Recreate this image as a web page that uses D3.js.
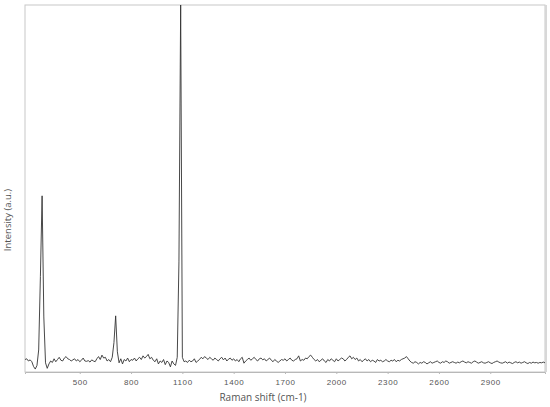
<!DOCTYPE html>
<html><head><meta charset="utf-8">
<script src="https://cdn.jsdelivr.net/npm/d3@7"></script>
<style>body{margin:0;background:#fff}svg{display:block}</style>
</head><body>
<script>
// Raman shift grid (cm-1): start and spacing of the measured points
const shiftStart = 180;
const shiftStep = 10;
// Intensity (a.u.) at each shift
const intensity = [
34,36,30,33,28,15,8,18,60,260,
480,150,25,10,22,30,26,36,28,34,
40,32,30,38,42,36,34,30,33,36,
30,34,28,32,38,30,29,31,27,33,
30,28,36,42,34,46,38,40,30,34,
28,40,80,153,55,25,36,22,34,30,
38,28,34,32,38,30,36,40,34,44,
38,42,48,36,40,32,28,36,22,30,
26,34,20,30,26,14,30,22,18,40,
300,1000,40,28,30,26,32,28,30,36,
26,30,34,40,36,42,38,34,40,36,
32,38,34,30,36,40,33,38,30,35,
38,32,36,30,34,28,36,40,24,30,
34,38,32,36,40,34,30,36,38,33,
36,30,34,38,32,28,34,30,26,30,
34,32,36,30,34,38,32,30,34,36,
44,30,34,32,38,36,42,46,40,34,
30,34,28,32,36,30,26,34,30,36,
32,28,36,30,34,38,36,30,34,40,
44,36,40,34,38,30,34,28,32,36,
30,34,28,32,30,26,34,30,32,28,
30,34,30,28,32,30,34,28,32,30,
34,36,38,42,36,30,26,24,28,26,
22,26,24,28,26,22,25,28,24,26,
28,30,26,24,28,26,30,28,24,26,
28,26,24,27,25,28,30,27,25,28,
26,24,28,30,27,24,26,28,25,24,
26,28,25,23,26,28,30,27,25,24,
26,28,24,27,25,23,26,28,25,27,
24,26,28,25,23,26,24,27,25,26,
24,26,25,27,25
];
const xTicks = [500, 800, 1100, 1400, 1700, 2000, 2300, 2600, 2900];
const xTitle = "Raman shift (cm-1)";
const yTitle = "Intensity (a.u.)";

const W = 550, H = 407;
const m = {left: 25, right: 5, top: 5, bottom: 35};
const svg = d3.select("body").append("svg").attr("width", W).attr("height", H);

const data = intensity.map((v, i) => ({s: shiftStart + i * shiftStep, v}));
const x = d3.scaleLinear().domain([shiftStart, shiftStart + (intensity.length - 1) * shiftStep]).range([m.left, W - m.right]);
const y = d3.scaleLinear().domain([0, 1000]).range([H - m.bottom, m.top]);

// frame
svg.append("rect").attr("x", m.left).attr("y", m.top)
  .attr("width", W - m.right - m.left).attr("height", H - m.bottom - m.top)
  .attr("fill", "none").attr("stroke", "#c8c8c8").attr("stroke-width", 1);
svg.append("line").attr("x1", W - m.right + 1).attr("x2", W - m.right + 1)
  .attr("y1", m.top).attr("y2", H - m.bottom)
  .attr("stroke", "#d8d8d8").attr("stroke-width", 2);

// x axis
const xAxis = d3.axisBottom(x).tickValues(xTicks).tickFormat(d3.format("d")).tickSize(2).tickPadding(5);
const gx = svg.append("g").attr("transform", `translate(0,${H - m.bottom})`).call(xAxis);
gx.select(".domain").attr("stroke", "#b8b8b8");
gx.selectAll(".tick line").attr("stroke", "#b8b8b8");
gx.selectAll(".tick text").attr("fill", "#555").attr("font-size", 8)
  .attr("font-family", "Liberation Sans, Arial, sans-serif").attr("letter-spacing", 0.6);

// line
svg.append("path").datum(data)
  .attr("fill", "none").attr("stroke", "#333").attr("stroke-width", 0.9)
  .attr("stroke-linejoin", "round")
  .attr("d", d3.line().x(d => x(d.s)).y(d => y(d.v)));

// titles
svg.append("text").attr("x", 263).attr("y", 401).attr("text-anchor", "middle")
  .attr("font-family", "Open Sans, sans-serif").attr("font-size", 10).attr("fill", "#555")
  .text(xTitle);
svg.append("text").attr("transform", "translate(11,220) rotate(-90)").attr("text-anchor", "middle")
  .attr("font-family", "Open Sans, sans-serif").attr("font-size", 9.5).attr("fill", "#555")
  .text(yTitle);
</script>
</body></html>
